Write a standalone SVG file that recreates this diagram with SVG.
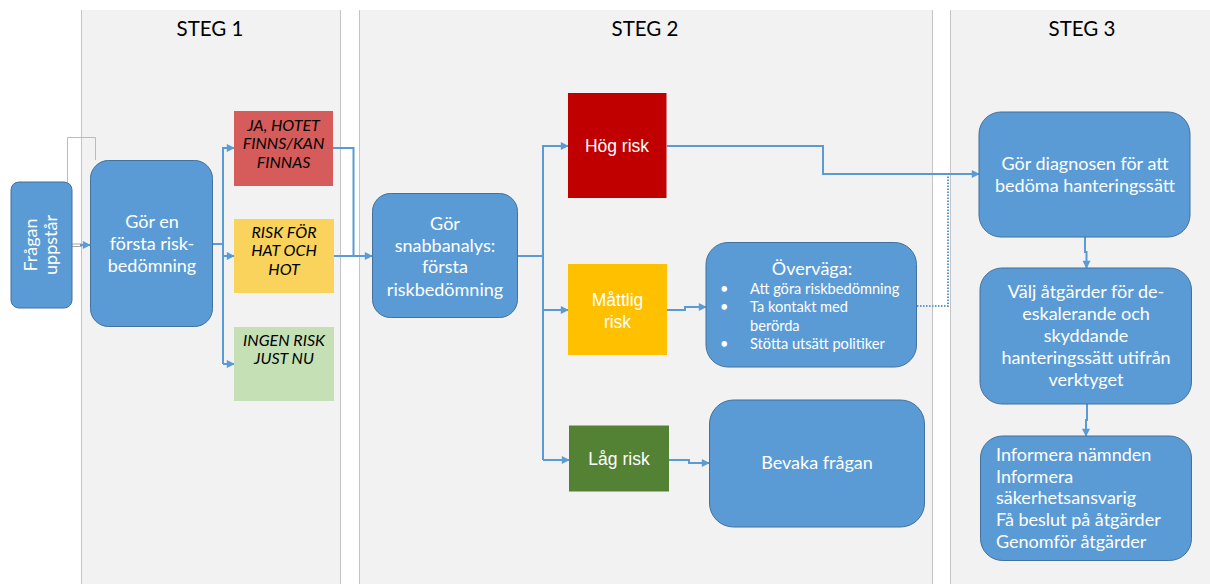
<svg xmlns="http://www.w3.org/2000/svg" width="1210" height="584" viewBox="0 0 1210 584">
  <defs>
    <marker id="arr" viewBox="0 0 10 10" refX="9" refY="5" markerWidth="9" markerHeight="8" orient="auto" markerUnits="userSpaceOnUse">
      <path d="M0,0 L10,5 L0,10 z" fill="#5b9bd5"/>
    </marker>
    <style>
      .panel { fill: #f2f2f2; }
      .pedge { stroke: #c4c4c4; stroke-width: 1; }
      .head { font-family: Lato, "Liberation Sans", sans-serif; font-size: 20.5px; fill: #000; text-anchor: middle; }
      .node { fill: #5b9bd5; stroke: #41719c; stroke-width: 1; }
      .ntxt { font-family: Lato, "Liberation Sans", sans-serif; font-size: 18px; fill: #fff; text-anchor: middle; }
      .ltxt { font-family: Lato, "Liberation Sans", sans-serif; font-size: 18px; fill: #fff; }
      .btxt { font-family: Lato, "Liberation Sans", sans-serif; font-size: 14.6px; fill: #fff; }
      .itxt { font-family: Lato, "Liberation Sans", sans-serif; font-size: 16px; font-style: italic; fill: #000; text-anchor: middle; }
      .rtxt { font-family: "Liberation Sans", Arial, sans-serif; font-size: 17.5px; fill: #fff; text-anchor: middle; }
      .con { fill: none; stroke: #5b9bd5; stroke-width: 2; }
      .dot { fill: none; stroke: #5b9bd5; stroke-width: 2; stroke-dasharray: 1.5 1.5; }
    </style>
  </defs>

  <rect width="1210" height="584" fill="#ffffff"/>

  <!-- stage columns -->
  <g id="columns">
    <rect class="panel" x="81" y="10" width="259" height="574"/>
    <line class="pedge" x1="81.5" y1="10" x2="81.5" y2="584"/>
    <line class="pedge" x1="340.5" y1="10" x2="340.5" y2="584"/>
    <rect class="panel" x="359" y="10" width="574" height="574"/>
    <line class="pedge" x1="359.5" y1="10" x2="359.5" y2="584"/>
    <line class="pedge" x1="932.5" y1="10" x2="932.5" y2="584"/>
    <rect class="panel" x="950" y="10" width="260" height="574"/>
    <line class="pedge" x1="950.5" y1="10" x2="950.5" y2="584"/>
    <text class="head" x="210" y="36">STEG 1</text>
    <text class="head" x="645" y="36">STEG 2</text>
    <text class="head" x="1082" y="36">STEG 3</text>
  </g>

  <!-- connectors -->
  <g id="connectors">
    <path d="M67.5,182 V137.5 H95.5 V160" fill="none" stroke="#a9bfd3" stroke-width="1"/>
    <line x1="72" y1="244" x2="82" y2="244" stroke="#a6a6a6" stroke-width="1"/>
    <line x1="72" y1="246.5" x2="82" y2="246.5" stroke="#a6a6a6" stroke-width="1"/>
    <path class="con" d="M80,245 H90" marker-end="url(#arr)"/>
    <path class="con" d="M213,244 H223"/>
    <path class="con" d="M223,147 V364"/>
    <path class="con" d="M223,148 H234" marker-end="url(#arr)"/>
    <path class="con" d="M223,256 H234" marker-end="url(#arr)"/>
    <path class="con" d="M223,364 H234" marker-end="url(#arr)"/>
    <path class="con" d="M333,148 H353.5 V256"/>
    <path class="con" d="M334,256 H372" marker-end="url(#arr)"/>
    <path class="con" d="M518,256 H543"/>
    <path class="con" d="M543,145 V460"/>
    <path class="con" d="M543,146 H568" marker-end="url(#arr)"/>
    <path class="con" d="M543,310 H568" marker-end="url(#arr)"/>
    <path class="con" d="M543,460 H569" marker-end="url(#arr)"/>
    <path class="con" d="M667,310 H685 V307 H706" marker-end="url(#arr)"/>
    <path class="con" d="M669,460 H689 V463 H709" marker-end="url(#arr)"/>
    <path class="con" d="M667,146 H823 V174 H979" marker-end="url(#arr)"/>
    <path class="dot" d="M917,306 H948 V175"/>
    <path class="con" d="M1085,237 V252 H1086.5 V268" marker-end="url(#arr)"/>
    <path class="con" d="M1087,404 V420 H1086 V436" marker-end="url(#arr)"/>
  </g>

  <g id="fragan">
    <rect class="node" x="11" y="182" width="61" height="126" rx="8"/>
    <text class="ntxt" transform="translate(42,245) rotate(-90)"><tspan x="0" y="-5">Frågan</tspan><tspan x="0" y="15">uppstår</tspan></text>
  </g>

  <g id="forsta-risk">
    <rect class="node" x="90.5" y="160.5" width="122" height="166" rx="18"/>
    <text class="ntxt"><tspan x="152" y="228">Gör en</tspan><tspan x="152" y="250">första risk-</tspan><tspan x="152" y="272">bedömning</tspan></text>
  </g>

  <g id="ja-hotet">
    <rect x="234" y="111" width="99" height="75" fill="#d55c5a"/>
    <text class="itxt"><tspan x="283.5" y="131">JA, HOTET</tspan><tspan x="283.5" y="149">FINNS/KAN</tspan><tspan x="283.5" y="168">FINNAS</tspan></text>
  </g>

  <g id="risk-hat">
    <rect x="234" y="219" width="100" height="74" fill="#f9d35b"/>
    <text class="itxt"><tspan x="284" y="238">RISK FÖR</tspan><tspan x="284" y="256">HAT OCH</tspan><tspan x="284" y="275">HOT</tspan></text>
  </g>

  <g id="ingen-risk">
    <rect x="234" y="327" width="100" height="74" fill="#c5e0b4"/>
    <text class="itxt"><tspan x="284" y="346">INGEN RISK</tspan><tspan x="284" y="364">JUST NU</tspan></text>
  </g>

  <g id="snabbanalys">
    <rect class="node" x="372.5" y="193.5" width="145" height="124" rx="18"/>
    <text class="ntxt"><tspan x="445" y="230">Gör</tspan><tspan x="445" y="252">snabbanalys:</tspan><tspan x="445" y="273">första</tspan><tspan x="445" y="296">riskbedömning</tspan></text>
  </g>

  <g id="hog-risk">
    <rect x="568" y="93" width="98.5" height="105" fill="#c00000"/>
    <text class="rtxt" x="617" y="152">Hög risk</text>
  </g>

  <g id="mattlig-risk">
    <rect x="568" y="264" width="99" height="91" fill="#ffc000"/>
    <text class="rtxt"><tspan x="617.5" y="306">Måttlig</tspan><tspan x="617.5" y="328">risk</tspan></text>
  </g>

  <g id="lag-risk">
    <rect x="569" y="425.5" width="100" height="66" fill="#548235"/>
    <text class="rtxt" x="619" y="465">Låg risk</text>
  </g>

  <g id="overvaga">
    <rect class="node" x="706" y="242.5" width="210.5" height="124.5" rx="22"/>
    <text class="ntxt" x="812" y="275">Överväga:</text>
    <g class="btxt">
      <text x="720" y="294">•</text>
      <text x="750" y="294">Att göra riskbedömning</text>
      <text x="720" y="312">•</text>
      <text x="750" y="312">Ta kontakt med</text>
      <text x="750" y="331">berörda</text>
      <text x="720" y="349">•</text>
      <text x="750" y="349">Stötta utsätt politiker</text>
    </g>
  </g>

  <g id="bevaka">
    <rect class="node" x="709.5" y="400" width="215" height="127" rx="24"/>
    <text class="ntxt" x="817" y="469">Bevaka frågan</text>
  </g>

  <g id="diagnos">
    <rect class="node" x="979" y="112" width="211" height="125" rx="22"/>
    <text class="ntxt"><tspan x="1085" y="170">Gör diagnosen för att</tspan><tspan x="1085" y="192">bedöma hanteringssätt</tspan></text>
  </g>

  <g id="valj-atgarder">
    <rect class="node" x="980" y="268" width="211.5" height="136" rx="22"/>
    <text class="ntxt"><tspan x="1086" y="298">Välj åtgärder för de-</tspan><tspan x="1086" y="320">eskalerande och</tspan><tspan x="1086" y="342">skyddande</tspan><tspan x="1086" y="364">hanteringssätt utifrån</tspan><tspan x="1086" y="386">verktyget</tspan></text>
  </g>

  <g id="informera">
    <rect class="node" x="980.5" y="436" width="211" height="124.5" rx="22"/>
    <text class="ltxt"><tspan x="996" y="461">Informera nämnden</tspan><tspan x="996" y="483">Informera</tspan><tspan x="996" y="504">säkerhetsansvarig</tspan><tspan x="996" y="526">Få beslut på åtgärder</tspan><tspan x="996" y="548">Genomför åtgärder</tspan></text>
  </g>
</svg>
